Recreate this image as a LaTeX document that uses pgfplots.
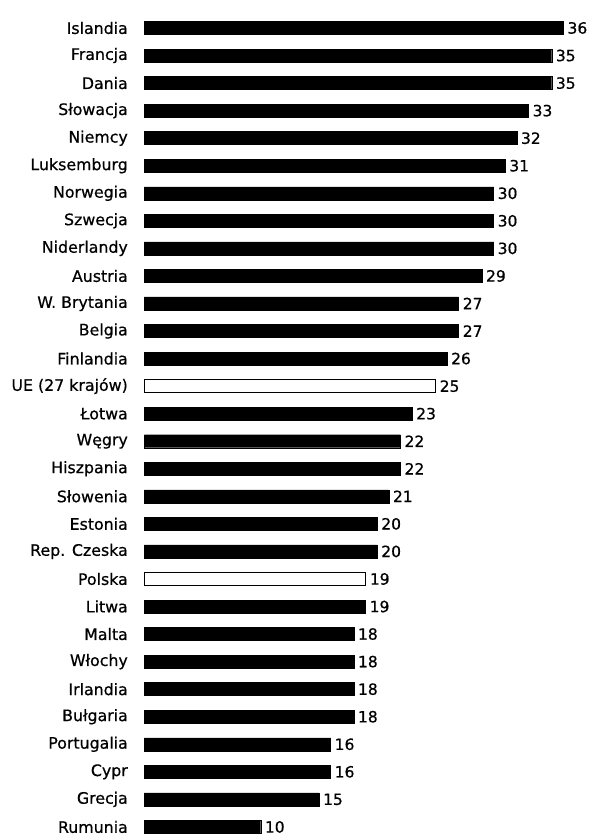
\documentclass[border=0pt]{standalone}
\usepackage{pgfplots}
\pgfplotsset{compat=1.18}
\usepackage{fontspec}
\setmainfont{DejaVu Sans}
\newfontfamily\lblfont[FakeBold=0.6]{DejaVu Sans}
\begin{document}
\begin{tikzpicture}
\begin{axis}[
  scale only axis,
  width=589pt, height=836pt,
  xmin=-12.03, xmax=38.57,
  ymin=-1.016, ymax=29.33,
  y dir=reverse,
  xbar, bar width=13pt, bar shift=0pt,
  axis line style={draw=none},
  tick style={draw=none},
  xtick=\empty,
  ytick={0,...,29},
  yticklabels={Islandia,Francja,Dania,Słowacja,Niemcy,Luksemburg,Norwegia,Szwecja,Niderlandy,Austria,W. Brytania,Belgia,Finlandia,UE (27 krajów),Łotwa,Węgry,Hiszpania,Słowenia,Estonia,Rep. Czeska,Polska,Litwa,Malta,Włochy,Irlandia,Bułgaria,Portugalia,Cypr,Grecja,Rumunia},
  yticklabel style={anchor=east, inner sep=0pt, xshift=128pt, font=\lblfont\fontsize{15.8}{18}\selectfont},
  /pgf/number format/assume math mode=true,
  nodes near coords,
  nodes near coords style={anchor=west, inner sep=0pt, xshift=4pt, font=\lblfont\fontsize{15.5}{18}\selectfont, text=black},
  clip=false,
]
\addplot[fill=black, draw=black] coordinates {
(36,0) (35,1) (35,2) (33,3) (32,4) (31,5) (30,6) (30,7) (30,8) (29,9)
(27,10) (27,11) (26,12) (23,14) (22,15) (22,16) (21,17) (20,18) (20,19)
(19,21) (18,22) (18,23) (18,24) (18,25) (16,26) (16,27) (15,28) (10,29)
};
\addplot[fill=white, draw=black, line width=0.8pt] coordinates {
(25,13) (19,20)
};
\end{axis}
\end{tikzpicture}
\end{document}
